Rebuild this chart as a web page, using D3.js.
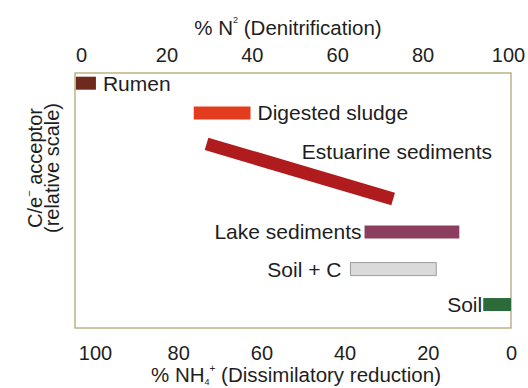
<!DOCTYPE html>
<html>
<head>
<meta charset="utf-8">
<script src="https://cdn.jsdelivr.net/npm/d3@7"></script>
<style>
  body { margin: 0; background: #fff; }
  svg text { font-family: "Liberation Sans", Arial, sans-serif; fill: #1e1e1e; }
</style>
</head>
<body>
<svg id="chart" width="528" height="388"></svg>
<script>
// sample names, % N2 range and relative C/e- acceptor level (0-100)
const samples = ['Rumen', 'Digested sludge', 'Estuarine sediments', 'Lake sediments', 'Soil + C', 'Soil'];
const n2Start = [-1.2, 26.4, 29.4, 66.4, 63.1, 94.2];
const n2End = [3.5, 39.7, 73.1, 88.6, 83.2, 101];
const levelStart = [96, 84.3, 72.2, 37.6, 23.1, 9.2];
const levelEnd = [96, 84.3, 50.6, 37.6, 23.1, 9.2];
const topTicks = [0, 20, 40, 60, 80, 100];
const bottomTicks = [100, 80, 60, 40, 20, 0];

const colors = ['#6e2a1c', '#e33b1d', '#b01c1e', '#8b3e5d', '#dadada', '#2c6a3a'];
const strokes = ['none', 'none', 'none', 'none', '#9a9a9a', 'none'];
const barH = 13;

const svg = d3.select('#chart');
const box = { left: 75, right: 511, top: 73, bottom: 328 };

const x = d3.scaleLinear().domain([0, 100]).range([81, 508]);
const xNh4 = d3.scaleLinear().domain([100, 0]).range([95, 511]);
const y = d3.scaleLinear().domain([0, 100]).range([box.bottom, box.top]);

// frame
svg.append('rect')
  .attr('x', box.left).attr('y', box.top)
  .attr('width', box.right - box.left).attr('height', box.bottom - box.top)
  .attr('fill', '#fff').attr('stroke', '#b3a672').attr('stroke-width', 1.3);

svg.append('clipPath').attr('id', 'plot')
  .append('rect')
  .attr('x', box.left).attr('y', box.top)
  .attr('width', box.right - box.left).attr('height', box.bottom - box.top);

// axes (text only, no lines)
const topAxis = svg.append('g')
  .attr('transform', 'translate(0,62)')
  .call(d3.axisTop(x).tickValues(topTicks).tickSize(0).tickPadding(0));
const bottomAxis = svg.append('g')
  .attr('transform', 'translate(0,360)')
  .call(d3.axisBottom(xNh4).tickValues(bottomTicks).tickSize(0).tickPadding(0));
[topAxis, bottomAxis].forEach(a => {
  a.select('.domain').remove();
  a.selectAll('text').attr('font-size', 20).attr('fill', '#1e1e1e')
    .attr('font-family', '"Liberation Sans", Arial, sans-serif')
    .attr('y', 0).attr('dy', 0);
});

// axis titles
const topTitle = svg.append('text')
  .attr('x', 288).attr('y', 35).attr('text-anchor', 'middle').attr('font-size', 20.5);
topTitle.append('tspan').text('% N');
topTitle.append('tspan').attr('font-size', 9).attr('dy', -12).text('2');
topTitle.append('tspan').attr('dy', 12).text(' (Denitrification)');

const botTitle = svg.append('text')
  .attr('x', 296).attr('y', 382).attr('text-anchor', 'middle').attr('font-size', 20.5);
botTitle.append('tspan').text('% NH');
botTitle.append('tspan').attr('font-size', 9).attr('dy', 3).text('4');
botTitle.append('tspan').attr('font-size', 10).attr('dy', -13).text('+');
botTitle.append('tspan').attr('dy', 10).text(' (Dissimilatory reduction)');

const yTitle = svg.append('g').attr('transform', 'translate(42,168) rotate(-90)');
const l1 = yTitle.append('text').attr('text-anchor', 'middle').attr('font-size', 20);
l1.append('tspan').text('C/e');
l1.append('tspan').attr('font-size', 11).attr('dy', -9).text('−');
l1.append('tspan').attr('dy', 9).text(' acceptor');
yTitle.append('text').attr('text-anchor', 'middle').attr('font-size', 20)
  .attr('y', 17).text('(relative scale)');

// bars
const rows = samples.map((name, i) => ({
  name, x0: n2Start[i], x1: n2End[i], y0: levelStart[i], y1: levelEnd[i], i
}));

const bars = svg.append('g').attr('clip-path', 'url(#plot)');
bars.selectAll('path.bar')
  .data(rows)
  .join('path')
  .attr('class', 'bar')
  .attr('d', d => {
    const ax = x(d.x0), ay = y(d.y0), bx = x(d.x1), by = y(d.y1);
    const len = Math.hypot(bx - ax, by - ay);
    const nx = -(by - ay) / len * barH / 2, ny = (bx - ax) / len * barH / 2;
    return `M${ax + nx},${ay + ny}L${bx + nx},${by + ny}L${bx - nx},${by - ny}L${ax - nx},${ay - ny}Z`;
  })
  .attr('fill', d => colors[d.i])
  .attr('stroke', d => strokes[d.i])
  .attr('stroke-width', 1);

// labels
const labelPlace = {
  'Rumen': { anchor: 'start', dx: 7, dy: 8 },
  'Digested sludge': { anchor: 'start', dx: 7, dy: 7 },
  'Estuarine sediments': { anchor: 'mid', dx: 2, dy: -12 },
  'Lake sediments': { anchor: 'end', dx: -3, dy: 7 },
  'Soil + C': { anchor: 'end', dx: -9, dy: 8 },
  'Soil': { anchor: 'end', dx: -1, dy: 7.5 }
};
svg.append('g').selectAll('text')
  .data(rows)
  .join('text')
  .attr('font-size', 21)
  .attr('text-anchor', d => labelPlace[d.name].anchor === 'end' ? 'end' : 'start')
  .attr('x', d => {
    const p = labelPlace[d.name];
    const bx = p.anchor === 'end' ? x(d.x0) : p.anchor === 'start' ? x(d.x1) : (x(d.x0) + x(d.x1)) / 2;
    return bx + p.dx;
  })
  .attr('y', d => {
    const p = labelPlace[d.name];
    const by = p.anchor === 'mid' ? (y(d.y0) + y(d.y1)) / 2 : y(d.y0);
    return by + p.dy;
  })
  .text(d => d.name);
</script>
</body>
</html>
